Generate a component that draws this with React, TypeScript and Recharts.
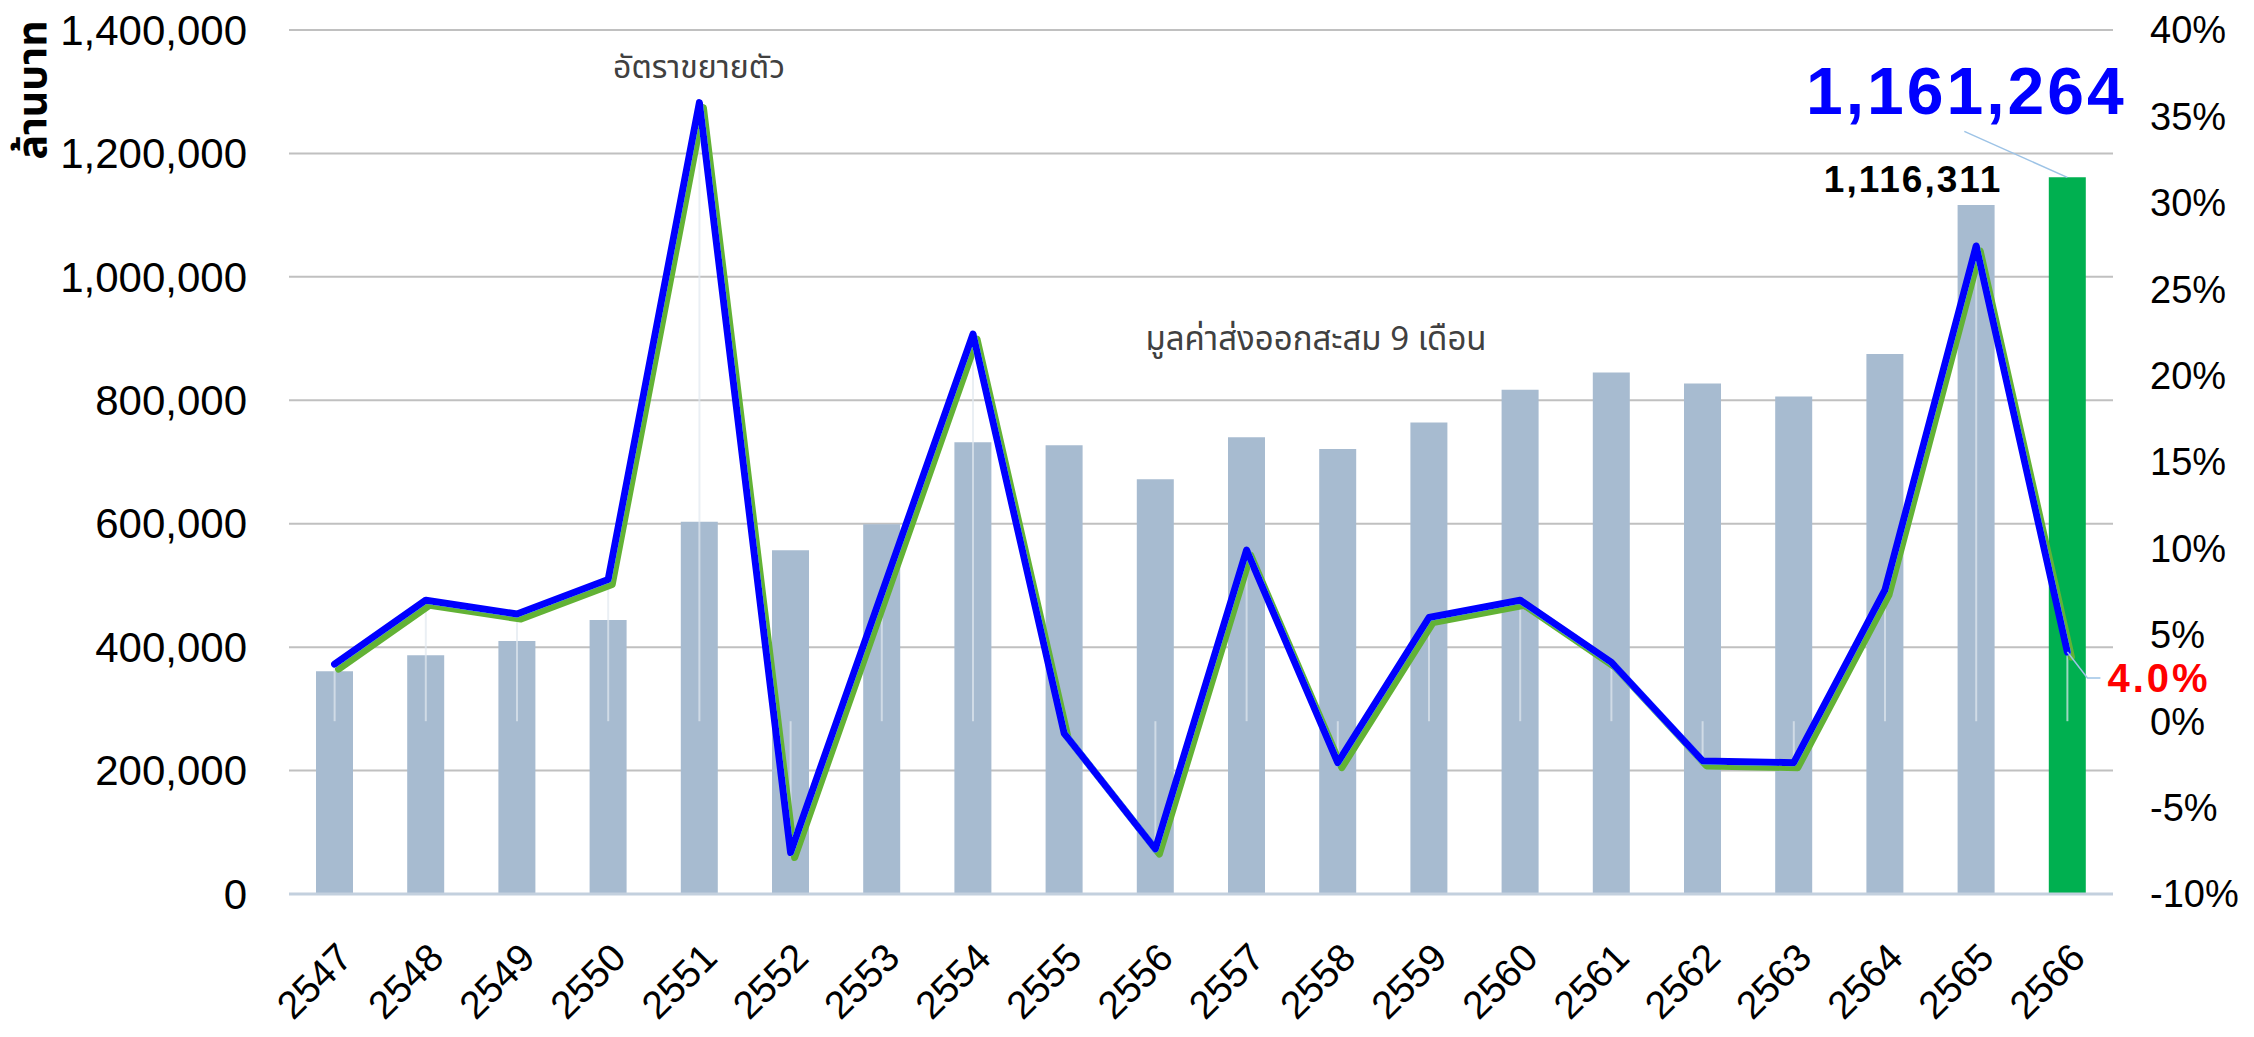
import React from 'react';
import {
  ComposedChart,
  Bar,
  Line,
  XAxis,
  YAxis,
  CartesianGrid,
  Cell,
  LabelList,
  ErrorBar,
} from 'recharts';

// ปี พ.ศ.
const years = [
  '2547', '2548', '2549', '2550', '2551', '2552', '2553', '2554', '2555', '2556',
  '2557', '2558', '2559', '2560', '2561', '2562', '2563', '2564', '2565', '2566',
];

// มูลค่าส่งออกสะสม 9 เดือน (ล้านบาท)
const exportValue = [
  361000, 387000, 410000, 444000, 603000, 557000, 599000, 732000, 727000, 672000,
  740000, 721000, 764000, 817000, 845000, 827000, 806000, 875000, 1116311, 1161264,
];

// อัตราขยายตัว (%)
const growthRate = [
  3.3, 7.0, 6.2, 8.2, 35.8, -7.6, 7.4, 22.4, -0.7, -7.4,
  9.9, -2.4, 6.0, 7.0, 3.4, -2.3, -2.4, 7.6, 27.5, 4.0,
];

const leftTicks = [0, 200000, 400000, 600000, 800000, 1000000, 1200000, 1400000];
const rightTicks = [-10, -5, 0, 5, 10, 15, 20, 25, 30, 35, 40];

const LAST = years.length - 1;
const PREV = years.length - 2;

const data = years.map((year, i) => ({
  year,
  value: exportValue[i],
  growth: growthRate[i],
  drop: [growthRate[i], 0], // faint line from the point down to 0%
}));

const AXIS_FONT = "'Liberation Sans', Arial, sans-serif";
const THAI_FONT = "'Noto Sans Thai', 'Leelawadee UI', Tahoma, 'Noto Sans', sans-serif";
const LEADER = '#9DC3E6';

const LeftTick = ({ x, y, payload }: any) => (
  <text x={x - 42} y={y} dy="0.35em" textAnchor="end" fontSize={42} fontFamily={AXIS_FONT} fill="#000">
    {Number(payload.value).toLocaleString('en-US')}
  </text>
);

const RightTick = ({ x, y, payload }: any) => (
  <text x={x + 37} y={y} dy="0.35em" textAnchor="start" fontSize={38} fontFamily={AXIS_FONT} fill="#000">
    {`${payload.value}%`}
  </text>
);

const YearTick = ({ x, y, payload }: any) => (
  <g transform={`translate(${x + 20},${y + 66})`}>
    <text transform="rotate(-45)" textAnchor="end" fontSize={39} fontFamily={AXIS_FONT} fill="#000">
      {payload.value}
    </text>
  </g>
);

const BarLabel = (props: any) => {
  const { x, y, width, index, value } = props;
  const cx = x + width / 2;
  if (index === LAST) {
    return (
      <g>
        <line x1={cx} y1={y} x2={cx - 103} y2={y - 46} stroke={LEADER} strokeWidth={1.5} />
        <text x={cx - 101} y={y - 63} textAnchor="middle" fontSize={66} fontWeight="bold"
          fontFamily={AXIS_FONT} fill="#0000FF" letterSpacing={3}>
          {Number(value).toLocaleString('en-US')}
        </text>
      </g>
    );
  }
  if (index === PREV) {
    return (
      <text x={cx - 63} y={y - 13} textAnchor="middle" fontSize={37} fontWeight="bold"
        fontFamily={AXIS_FONT} fill="#000" letterSpacing={2}>
        {Number(value).toLocaleString('en-US')}
      </text>
    );
  }
  return null;
};

const GrowthLabel = (props: any) => {
  const { x, y, index, value } = props;
  if (index !== LAST) return null;
  return (
    <g>
      <polyline points={`${x},${y} ${x + 20},${y + 26} ${x + 33},${y + 26}`} fill="none"
        stroke={LEADER} strokeWidth={1.5} />
      <text x={x + 40} y={y + 40} fontSize={40} fontWeight="bold" fontFamily={AXIS_FONT}
        fill="#FF0000" letterSpacing={3}>
        {`${Number(value).toFixed(1)}%`}
      </text>
    </g>
  );
};

const App: React.FC = () => {
  return (
    <div style={{ position: 'relative', width: 2254, height: 1037, background: '#fff' }}>
      <style>{'body{margin:0}'}</style>
      <ComposedChart
        width={2254}
        height={1037}
        data={data}
        margin={{ top: 30, right: 0, bottom: 0, left: 0 }}
      >
        <defs>
          <filter id="greenShadow" x="-5%" y="-5%" width="110%" height="110%">
            <feFlood floodColor="#62B235" result="flood" />
            <feComposite in="flood" in2="SourceAlpha" operator="in" result="shape" />
            <feOffset in="shape" dx={4} dy={5} result="offset" />
            <feMerge>
              <feMergeNode in="offset" />
              <feMergeNode in="SourceGraphic" />
            </feMerge>
          </filter>
        </defs>
        <CartesianGrid yAxisId="left" vertical={false} stroke="#C0C0C0" strokeWidth={2} />
        <XAxis
          dataKey="year"
          interval={0}
          height={143}
          tickSize={0}
          tickMargin={0}
          tickLine={false}
          axisLine={{ stroke: '#C3D0DE', strokeWidth: 3 }}
          tick={<YearTick />}
        />
        <YAxis
          yAxisId="left"
          orientation="left"
          width={289}
          domain={[0, 1400000]}
          ticks={leftTicks}
          interval={0}
          tickSize={0}
          tickMargin={0}
          axisLine={false}
          tickLine={false}
          tick={<LeftTick />}
        />
        <YAxis
          yAxisId="right"
          orientation="right"
          width={141}
          domain={[-10, 40]}
          ticks={rightTicks}
          interval={0}
          tickSize={0}
          tickMargin={0}
          axisLine={false}
          tickLine={false}
          tick={<RightTick />}
        />
        <Bar yAxisId="left" dataKey="value" barSize={37} isAnimationActive={false}>
          {data.map((d, i) => (
            <Cell key={d.year} fill={i === LAST ? '#00B050' : '#A7BBD0'} />
          ))}
          <LabelList dataKey="value" content={<BarLabel />} />
        </Bar>
        <Line
          yAxisId="right"
          dataKey="growth"
          stroke="#0000FF"
          strokeWidth={7}
          strokeLinejoin="round"
          strokeLinecap="round"
          dot={false}
          activeDot={false}
          filter="url(#greenShadow)"
          isAnimationActive={false}
        >
          <ErrorBar dataKey="drop" width={0} stroke="rgba(225,232,240,0.7)" strokeWidth={2} direction="y" />
          <LabelList dataKey="growth" content={<GrowthLabel />} />
        </Line>
      </ComposedChart>

      <svg width={2254} height={1037} style={{ position: 'absolute', left: 0, top: 0, pointerEvents: 'none' }}>
        <text transform="translate(46,90) rotate(-90)" textAnchor="middle" fontSize={41}
          fontWeight="bold" fontFamily={THAI_FONT} fill="#000">
          ล้านบาท
        </text>
        <text x={699} y={78} textAnchor="middle" fontSize={32} fontFamily={THAI_FONT} fill="#404040">
          อัตราขยายตัว
        </text>
        <text x={1316} y={350} textAnchor="middle" fontSize={33} fontFamily={THAI_FONT} fill="#404040">
          มูลค่าส่งออกสะสม 9 เดือน
        </text>
      </svg>
    </div>
  );
};

export default App;
